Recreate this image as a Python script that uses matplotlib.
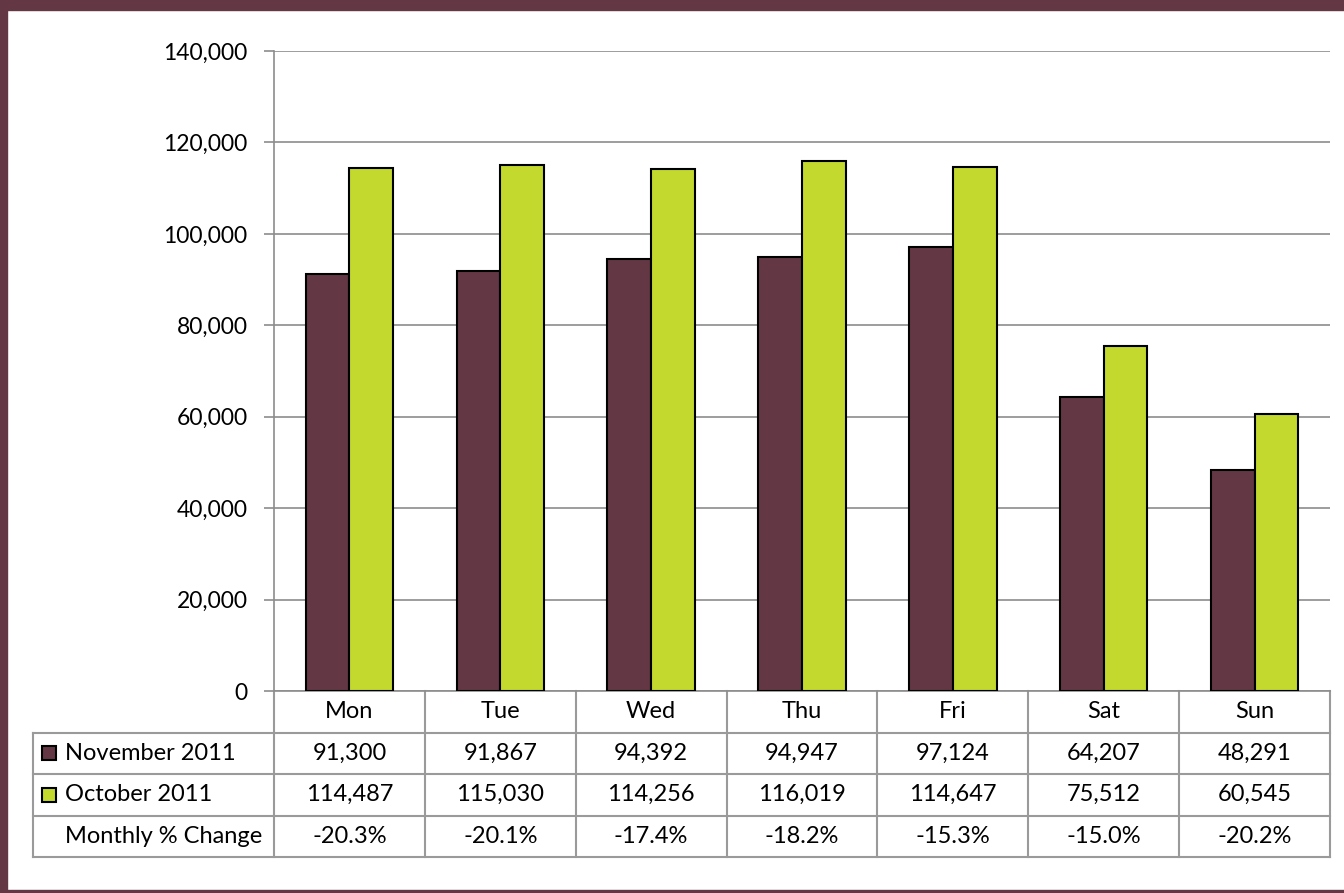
import matplotlib.pyplot as plt
from matplotlib.patches import Rectangle
from matplotlib.transforms import blended_transform_factory

days = ["Mon", "Tue", "Wed", "Thu", "Fri", "Sat", "Sun"]
november = [91300, 91867, 94392, 94947, 97124, 64207, 48291]
october = [114487, 115030, 114256, 116019, 114647, 75512, 60545]
pct_change = ["-20.3%", "-20.1%", "-17.4%", "-18.2%", "-15.3%", "-15.0%", "-20.2%"]
series_names = ["November 2011", "October 2011"]

maroon = "#633844"
green = "#C3D92E"
grid_grey = "#8C8C8C"
table_grey = "#9A9A9A"

plt.rcParams["font.family"] = ["Lato", "DejaVu Sans"]

W, H = 1344, 893
fig = plt.figure(figsize=(W / 100, H / 100), dpi=100)

# frame around the chart
fig.patches.append(Rectangle((0, 1 - 10 / H), 1, 10 / H, transform=fig.transFigure,
                             color=maroon, zorder=0))
fig.patches.append(Rectangle((0, 0), 7 / W, 1, transform=fig.transFigure,
                             color=maroon, zorder=0))
fig.patches.append(Rectangle((0, 0), 1, 3 / H, transform=fig.transFigure,
                             color=maroon, zorder=0))

left, right, top, bottom = 274, 1330, 51, 691
ax = fig.add_axes([left / W, 1 - bottom / H, (right - left) / W, (bottom - top) / H])

x = list(range(len(days)))
bw = 0.29
ax.bar([i - bw / 2 for i in x], november, bw, color=maroon, edgecolor="black",
       linewidth=1.5, zorder=3)
ax.bar([i + bw / 2 for i in x], october, bw, color=green, edgecolor="black",
       linewidth=1.5, zorder=3)

ax.set_xlim(-0.5, len(days) - 0.5)
ax.set_ylim(0, 140000)
ax.set_yticks(range(0, 140001, 20000))
ax.set_yticklabels([f"{v:,}" for v in range(0, 140001, 20000)], fontsize=16.5)
ax.yaxis.grid(True, color=grid_grey, linewidth=1.2)
ax.set_axisbelow(True)
ax.set_xticks([])
for s in ["top", "right"]:
    ax.spines[s].set_visible(False)
ax.spines["left"].set_color(grid_grey)
ax.spines["bottom"].set_color(grid_grey)
ax.spines["left"].set_linewidth(1.2)
ax.spines["bottom"].set_linewidth(1.2)
ax.tick_params(axis="y", length=7, color=grid_grey, width=1.2, pad=12)

# data table under the axis
tr = blended_transform_factory(ax.transData, ax.transAxes)
row_h = 41.5 / (bottom - top)
x_tab_left = -0.5 - (left - 33) / ((right - left) / len(days))
n_rows = 4
fs = 17
for k in range(len(days) + 1):
    xe = k - 0.5
    ax.plot([xe, xe], [0, -n_rows * row_h], transform=tr, color=table_grey,
            linewidth=1.5, clip_on=False)
ax.plot([x_tab_left, x_tab_left], [-row_h, -n_rows * row_h], transform=tr,
        color=table_grey, linewidth=1.5, clip_on=False)
for r in range(1, n_rows + 1):
    ax.plot([x_tab_left, len(days) - 0.5], [-r * row_h, -r * row_h], transform=tr,
            color=table_grey, linewidth=1.5, clip_on=False)

rows = [november, october]
for i, d in enumerate(days):
    ax.text(i, -0.5 * row_h, d, transform=tr, ha="center", va="center", fontsize=fs)
    for r, vals in enumerate(rows):
        ax.text(i, -(r + 1.5) * row_h, f"{vals[i]:,}", transform=tr, ha="center",
                va="center", fontsize=fs)
    ax.text(i, -3.5 * row_h, pct_change[i], transform=tr, ha="center", va="center",
            fontsize=fs)

unit = (right - left) / len(days)
key_x = x_tab_left + 9 / unit
key_w = 14 / unit
key_h = 14 / (bottom - top)
label_x = x_tab_left + 32 / unit
for r, (name, col) in enumerate(zip(series_names, [maroon, green])):
    yc = -(r + 1.5) * row_h
    ax.add_patch(Rectangle((key_x, yc - key_h / 2), key_w, key_h, transform=tr,
                           facecolor=col, edgecolor="black", linewidth=1.5,
                           clip_on=False))
    ax.text(label_x, yc, name, transform=tr, ha="left", va="center", fontsize=fs)
ax.text(label_x, -3.5 * row_h, "Monthly % Change", transform=tr, ha="left",
        va="center", fontsize=fs)

fig.savefig("out.png", dpi=100)
